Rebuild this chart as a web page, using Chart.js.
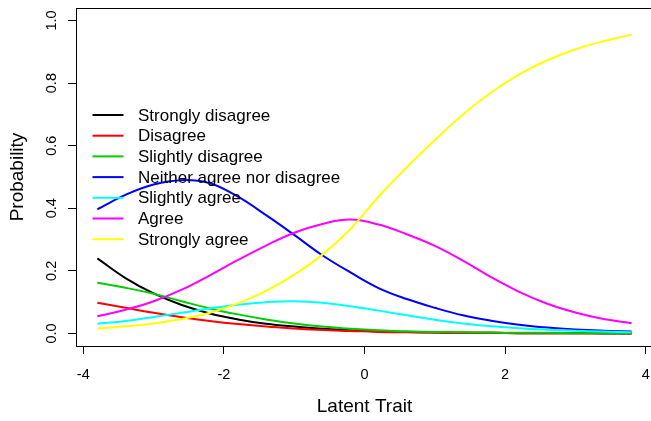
<!DOCTYPE html>
<html>
<head>
<meta charset="utf-8">
<script src="https://cdn.jsdelivr.net/npm/chart.js@4.4.1/dist/chart.umd.min.js"></script>
<style>
  html, body { margin: 0; padding: 0; background: #fff; overflow: hidden; }
  #wrap { width: 651px; height: 421px; overflow: hidden; }
</style>
</head>
<body>
<div id="wrap"><canvas id="chart" width="660" height="421"></canvas></div>
<script>
// latent trait values where the curves were read
const theta = [-3.8, -3.4, -3.0, -2.6, -2.2, -1.8, -1.4, -1.0, -0.6, -0.2,
  0.2, 0.6, 1.0, 1.4, 1.8, 2.2, 2.6, 3.0, 3.4, 3.8];

const categories = ["Strongly disagree", "Disagree", "Slightly disagree",
  "Neither agree nor disagree", "Slightly agree", "Agree", "Strongly agree"];

const stronglyDisagree = [0.240, 0.177, 0.128, 0.091, 0.064, 0.045, 0.031, 0.022, 0.015, 0.010,
  0.007, 0.005, 0.003, 0.002, 0.002, 0.001, 0.001, 0.001, 0.000, 0.000];
const disagree = [0.098, 0.082, 0.066, 0.052, 0.040, 0.030, 0.022, 0.016, 0.011, 0.008,
  0.005, 0.004, 0.003, 0.002, 0.002, 0.001, 0.001, 0.001, 0.001, 0.000];
const slightlyDisagree = [0.162, 0.146, 0.127, 0.103, 0.080, 0.061, 0.045, 0.032, 0.022, 0.015,
  0.010, 0.007, 0.005, 0.004, 0.003, 0.002, 0.002, 0.001, 0.001, 0.001];
const neither = [0.397, 0.443, 0.476, 0.490, 0.480, 0.437, 0.378, 0.315, 0.250, 0.195,
  0.145, 0.110, 0.082, 0.058, 0.041, 0.028, 0.019, 0.013, 0.009, 0.006];
const slightlyAgree = [0.031, 0.040, 0.053, 0.066, 0.080, 0.092, 0.100, 0.103, 0.098, 0.087,
  0.073, 0.058, 0.044, 0.032, 0.023, 0.017, 0.012, 0.009, 0.006, 0.004];
const agree = [0.055, 0.076, 0.103, 0.140, 0.186, 0.235, 0.281, 0.322, 0.350, 0.364,
  0.348, 0.317, 0.280, 0.233, 0.180, 0.133, 0.095, 0.067, 0.046, 0.033];
const stronglyAgree = [0.016, 0.023, 0.032, 0.046, 0.066, 0.096, 0.136, 0.188, 0.252, 0.334,
  0.437, 0.531, 0.618, 0.700, 0.770, 0.828, 0.873, 0.908, 0.934, 0.955];

const xTicks = [-4, -2, 0, 2, 4];
const yTicks = [0, 0.2, 0.4, 0.6, 0.8, 1.0];

const series = [stronglyDisagree, disagree, slightlyDisagree, neither,
  slightlyAgree, agree, stronglyAgree];
const colors = ["#000000", "#FF0000", "#00CD00", "#0000FF", "#00FFFF", "#FF00FF", "#FFFF00"];

const FONT = "'Liberation Sans', Arial, sans-serif";

function toPoints(values) {
  return values.map(function (v, i) {
    return { x: theta[i], y: v };
  });
}

// R style box round the plot region
const boxPlugin = {
  id: "box",
  afterDatasetsDraw(chart) {
    const a = chart.chartArea;
    const ctx = chart.ctx;
    ctx.save();
    ctx.strokeStyle = "#000";
    ctx.lineWidth = 1;
    ctx.strokeRect(Math.round(a.left) + 0.5, Math.round(a.top) + 0.5,
      Math.round(a.right - a.left), Math.round(a.bottom - a.top));
    ctx.restore();
  },
};

// legend without frame, top left inside the plot
const legendPlugin = {
  id: "rLegend",
  afterDraw(chart) {
    const ctx = chart.ctx;
    ctx.save();
    ctx.font = "17px " + FONT;
    ctx.textBaseline = "middle";
    ctx.fillStyle = "#000";
    ctx.lineWidth = 2;
    for (var i = 0; i < categories.length; i++) {
      var y = 115 + i * 20.7;
      ctx.strokeStyle = colors[i];
      ctx.beginPath();
      ctx.moveTo(92.5, y);
      ctx.lineTo(123.5, y);
      ctx.stroke();
      ctx.fillText(categories[i], 138, y + 1);
    }
    ctx.restore();
  },
};

new Chart(document.getElementById("chart"), {
  type: "line",
  data: {
    datasets: series.map(function (vals, i) {
      return {
        label: categories[i],
        data: toPoints(vals),
        borderColor: colors[i],
        backgroundColor: colors[i],
        borderWidth: 2,
        pointRadius: 0,
        tension: 0.4,
        fill: false,
        order: series.length - i,
      };
    }),
  },
  options: {
    responsive: false,
    animation: false,
    layout: { padding: { top: 8, right: 7, left: 0, bottom: 0 } },
    plugins: {
      legend: { display: false },
      tooltip: { enabled: false },
    },
    scales: {
      x: {
        type: "linear",
        min: -4.104,
        max: 4.104,
        afterBuildTicks: function (s) {
          s.ticks = xTicks.map(function (v) { return { value: v }; });
        },
        afterFit: function (s) {
          s.height = 75;
          s.paddingLeft = 0;
          s.paddingRight = 0;
        },
        ticks: {
          autoSkip: false,
          color: "#000",
          padding: 12,
          font: { family: FONT, size: 14.5 },
          callback: function (v) { return String(v); },
        },
        grid: { drawOnChartArea: false, tickLength: 8, color: "#000" },
        border: { display: true, color: "#000" },
        title: {
          display: true,
          text: "Latent Trait",
          color: "#000",
          font: { family: FONT, size: 19 },
          padding: { top: 0, bottom: 3 },
        },
      },
      y: {
        type: "linear",
        min: -0.04,
        max: 1.04,
        afterBuildTicks: function (s) {
          s.ticks = yTicks.map(function (v) { return { value: v }; });
        },
        afterFit: function (s) {
          s.width = 76;
          s.paddingTop = 0;
          s.paddingBottom = 0;
        },
        ticks: {
          autoSkip: false,
          color: "#000",
          minRotation: 90,
          maxRotation: 90,
          crossAlign: "center",
          padding: 6,
          font: { family: FONT, size: 14.5 },
          callback: function (v) { return v.toFixed(1); },
        },
        grid: { drawOnChartArea: false, tickLength: 8, color: "#000" },
        border: { display: true, color: "#000" },
        title: {
          display: true,
          text: "Probability",
          color: "#000",
          font: { family: FONT, size: 19 },
          padding: { top: 6, bottom: 0 },
        },
      },
    },
  },
  plugins: [boxPlugin, legendPlugin],
});
</script>
</body>
</html>
